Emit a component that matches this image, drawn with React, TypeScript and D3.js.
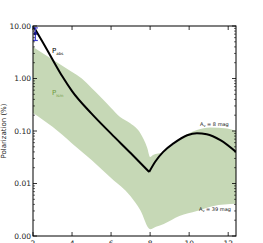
import React from 'react'
import * as d3 from 'd3'

// observed polarization (black line), falling branch and rising branch
const absX1 = [2.05, 2.5, 3.0, 3.5, 4.0, 5.0, 6.0, 7.0, 7.95]
const absY1 = [9.5, 4.9, 2.3, 1.1, 0.575, 0.214, 0.089, 0.038, 0.0166]
const absX2 = [7.95, 8.26, 8.67, 9.2, 9.9, 10.4, 10.9, 11.6, 12.4]
const absY2 = [0.0166, 0.026, 0.04, 0.058, 0.083, 0.091, 0.087, 0.067, 0.04]

// interstellar band
const bandUpX = [2.0, 3.0, 4.0, 4.5, 5.0, 5.5, 6.0, 6.46, 7.0, 7.5, 7.85, 8.0, 8.15, 8.67, 9.18, 9.7, 10.4, 11.08, 11.95, 12.4]
const bandUpY = [4.0, 2.3, 1.33, 1.0, 0.66, 0.43, 0.275, 0.185, 0.139, 0.091, 0.048, 0.032, 0.035, 0.04, 0.054, 0.078, 0.105, 0.117, 0.112, 0.1]
const bandLoX = [2.0, 3.0, 4.0, 5.0, 6.0, 7.0, 7.5, 8.0, 8.3, 8.7, 9.5, 10.4, 11.2, 12.4]
const bandLoY = [0.22, 0.12, 0.058, 0.028, 0.0127, 0.0057, 0.0031, 0.00135, 0.0015, 0.0017, 0.0024, 0.003, 0.0037, 0.0041]

// measured point with error bar
const obsX = 2.12
const obsY = 7.2
const obsLo = 5.3
const obsHi = 9.2

const xTicks = [2, 4, 6, 8, 10, 12]
const yTicks = [10, 1, 0.1, 0.01, 0.001]
const yTickLabels = ['10.00', '1.00', '0.10', '0.01', '0.00']

const W = 263
const H = 243
const L = 33, R = 236, T = 26, B = 236

export default function App() {
  const x = d3.scaleLinear().domain([2, 12.4]).range([L, R])
  const y = d3.scaleLog().domain([0.001, 10]).range([B, T])

  const pts = (xs: number[], ys: number[]) => xs.map((v, i) => [x(v), y(ys[i])] as [number, number])
  const smooth = d3.line().curve(d3.curveMonotoneX)

  const up = pts(bandUpX, bandUpY)
  const lo = pts(bandLoX, bandLoY)
  // lower edge drawn right to left
  const loBackPath = (smooth(lo.slice().reverse()) || '').replace(/^M/, 'L')
  const bandPath = (smooth(up) || '') + loBackPath + 'Z'

  const line1 = smooth(pts(absX1, absY1)) || ''
  const line2 = smooth(pts(absX2, absY2)) || ''

  const minors: number[] = []
  for (let e = -3; e < 1; e++) for (let k = 2; k < 10; k++) minors.push(k * Math.pow(10, e))

  const font = 'DejaVu Sans, sans-serif'

  return (
    <div style={{ position: 'absolute', left: 0, top: 0 }}>
      <svg width={W} height={H} style={{ display: 'block' }}>
        <rect width={W} height={H} fill="#fff" />
        <defs>
          <clipPath id="plot">
            <rect x={L} y={T} width={R - L} height={B - T} />
          </clipPath>
        </defs>
        <g clipPath="url(#plot)">
          <path d={bandPath} fill="#c6d8b6" stroke="none" />
          <path d={line1} fill="none" stroke="#000" strokeWidth={2} />
          <path d={line2} fill="none" stroke="#000" strokeWidth={2} />
          <line x1={x(obsX)} x2={x(obsX)} y1={y(obsLo)} y2={y(obsHi)} stroke="#3b3bd0" strokeWidth={1.2} />
          <line x1={x(obsX) - 2.5} x2={x(obsX) + 2.5} y1={y(obsLo)} y2={y(obsLo)} stroke="#3b3bd0" strokeWidth={1.2} />
          <line x1={x(obsX) - 2.5} x2={x(obsX) + 2.5} y1={y(obsHi)} y2={y(obsHi)} stroke="#3b3bd0" strokeWidth={1.2} />
          <circle cx={x(obsX)} cy={y(obsY)} r={1.8} fill="#1a1a8c" />
        </g>
        <rect x={L} y={T} width={R - L} height={B - T} fill="none" stroke="#000" strokeWidth={1} />
        {yTicks.map((t, i) => (
          <g key={'y' + i}>
            <line x1={L} x2={L + 4} y1={y(t)} y2={y(t)} stroke="#000" strokeWidth={0.8} />
            <line x1={R} x2={R - 4} y1={y(t)} y2={y(t)} stroke="#000" strokeWidth={0.8} />
            <text x={L - 2} y={y(t) + 2.6} textAnchor="end" fontSize={7.5} fontFamily={font} fill="#222">{yTickLabels[i]}</text>
          </g>
        ))}
        {minors.map((t, i) => (
          <g key={'m' + i}>
            <line x1={L} x2={L + 2} y1={y(t)} y2={y(t)} stroke="#000" strokeWidth={0.6} />
            <line x1={R} x2={R - 2} y1={y(t)} y2={y(t)} stroke="#000" strokeWidth={0.6} />
          </g>
        ))}
        {xTicks.map((t, i) => (
          <g key={'x' + i}>
            <line x1={x(t)} x2={x(t)} y1={B} y2={B - 4} stroke="#000" strokeWidth={0.8} />
            <line x1={x(t)} x2={x(t)} y1={T} y2={T + 4} stroke="#000" strokeWidth={0.8} />
            <text x={x(t)} y={B + 9.5} textAnchor="middle" fontSize={7.5} fontFamily={font} fill="#222">{t}</text>
          </g>
        ))}
        <text transform={`translate(6,${(T + B) / 2}) rotate(-90)`} textAnchor="middle" fontSize={7} fontFamily={font} fill="#222">Polarization (%)</text>
        <text x={52} y={53} fontSize={7} fontFamily={font} fill="#000">P<tspan fontSize={4} dy={1.5}>abs</tspan></text>
        <text x={52} y={95} fontSize={7} fontFamily={font} fill="#6f9a3e">P<tspan fontSize={4} dy={1.5}>ism</tspan></text>
        <text x={200} y={126} fontSize={5} fontFamily={font} fill="#111">A<tspan fontSize={3.5} dy={1}>v</tspan><tspan dy={-1}> = 8 mag</tspan></text>
        <text x={199} y={211} fontSize={5} fontFamily={font} fill="#111">A<tspan fontSize={3.5} dy={1}>v</tspan><tspan dy={-1}> = 39 mag</tspan></text>
      </svg>
    </div>
  )
}
